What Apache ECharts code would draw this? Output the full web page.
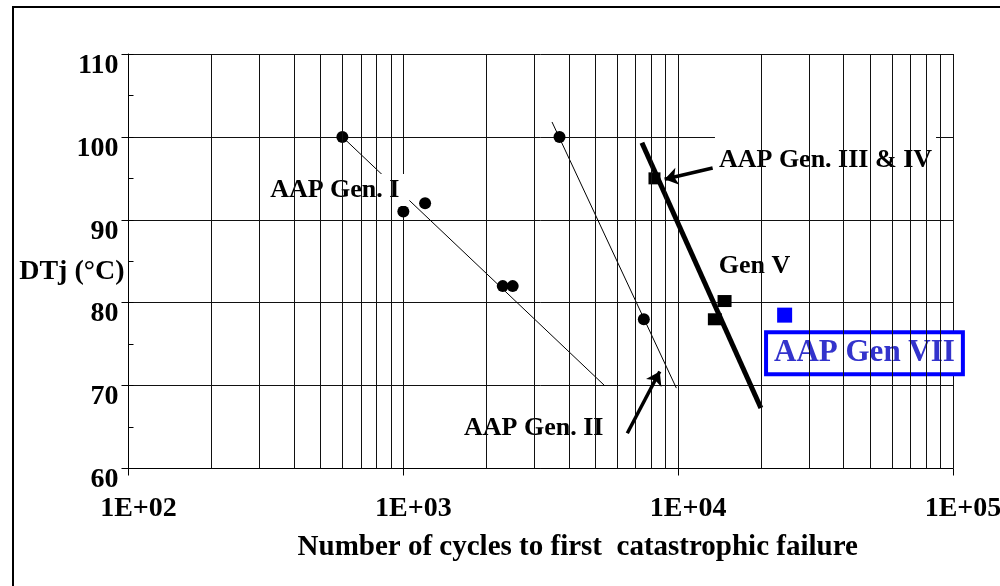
<!DOCTYPE html>
<html>
<head>
<meta charset="UTF-8">
<title>DTj vs cycles</title>
<script src="https://cdn.jsdelivr.net/npm/echarts@6/dist/echarts.min.js"></script>
</head>
<body style="margin:0;background:#fff">
<div id="main" style="width:1000px;height:586px;"></div>
<script>
var FONT = "'Liberation Serif', 'Times New Roman', serif";

// axis ticks
var X_TICKS = ['1E+02', '1E+03', '1E+04', '1E+05'];
var MINOR_X = [200, 300, 400, 500, 600, 700, 800, 900,
               2000, 3000, 4000, 5000, 6000, 7000, 8000, 9000,
               20000, 30000, 40000, 50000, 60000, 70000, 80000, 90000];

// measured points  [cycles, DTj]
var genI = [[600, 100], [1000, 91], [1200, 92], [2300, 82], [2500, 82]];
var genII = [[3700, 100], [7500, 78]];
var genIII = [[8200, 95]];
var genV = [[14750, 80.2], [13600, 78]];
var genVII = [[24400, 78.5]];

// fitted lines (end points)
var genIFit = [[600, 100], [5400, 70]];
var genIIFit = [[3475, 101.8], [9850, 69.7]];
var genIIIFit = [[7380, 99.3], [20000, 67.3]];

// annotations
var labelText = ['AAP Gen. I', 'AAP Gen. III & IV', 'Gen V', 'AAP Gen. II'];
var labelPos = [[563, 93.6], [34360, 97.2], [18970, 84.4], [2982, 64.9]];
var labelPad = [[3, 10], [12, 4], [12, 4], [18, 10]];
var arrows = [
    [[13350, 96.25], [8930, 94.9]],
    [[6530, 64.25], [8570, 71.7]]
];
var gen7Text = 'AAP Gen VII';
var gen7Pos = [47630, 73.9];

var myChart = echarts.init(document.getElementById('main'));

var labelData = labelText.map(function (t, i) {
    return {
        value: labelPos[i],
        label: { formatter: t, padding: labelPad[i] }
    };
});

var option = {
    animation: false,
    backgroundColor: '#fff',
    grid: {
        left: 128.5, right: 47, top: 54, bottom: 117.5,
        containLabel: false,
        outerBoundsMode: 'none'
    },
    graphic: [{
        type: 'rect',
        silent: true,
        shape: { x: 13, y: 7, width: 1010, height: 600 },
        style: { fill: 'none', stroke: '#000', lineWidth: 2 }
    }],
    xAxis: {
        type: 'log',
        logBase: 10,
        min: 100,
        max: 100000,
        axisLine: { show: true, onZero: false, lineStyle: { color: '#000' } },
        axisTick: { show: true, length: 7, lineStyle: { color: '#000' } },
        axisLabel: {
            formatter: function (v) {
                return X_TICKS[Math.round(Math.log10(v)) - 2];
            },
            fontFamily: FONT, fontSize: 28, fontWeight: 'bold', color: '#000',
            margin: 26, padding: [0, 0, 0, 20]
        },
        splitLine: { show: true, lineStyle: { color: '#111', width: 1 } },
        name: 'Number of cycles to first  catastrophic failure',
        nameLocation: 'middle',
        nameGap: 65,
        nameMoveOverlap: false,
        nameTextStyle: {
            fontFamily: FONT, fontSize: 29, fontWeight: 'bold', color: '#000',
            padding: [0, 0, 0, 74]
        }
    },
    yAxis: [{
        type: 'value',
        min: 60,
        max: 110,
        interval: 10,
        axisLine: { show: true, lineStyle: { color: '#000' } },
        axisTick: { show: true, length: 7, lineStyle: { color: '#000' } },
        axisLabel: {
            fontFamily: FONT, fontSize: 28, fontWeight: 'bold', color: '#000',
            margin: 10, verticalAlign: 'top', lineHeight: 23
        },
        splitLine: { show: true, lineStyle: { color: '#111', width: 1 } },
        name: 'DTj (°C)',
        nameLocation: 'middle',
        nameRotate: 0,
        nameGap: 4,
        nameMoveOverlap: false,
        nameTextStyle: {
            fontFamily: FONT, fontSize: 28, fontWeight: 'bold', color: '#000',
            align: 'right', verticalAlign: 'top', lineHeight: 22
        }
    }, {
        // inner half-step ticks
        type: 'value',
        min: 60,
        max: 110,
        interval: 5,
        position: 'left',
        offset: 0,
        axisLine: { show: false },
        axisTick: { show: true, inside: true, length: 5, lineStyle: { color: '#000' } },
        axisLabel: { show: false },
        splitLine: { show: false }
    }],
    series: [
        {
            // minor vertical grid lines
            type: 'line',
            data: [],
            silent: true,
            z: 1,
            markLine: {
                silent: true,
                symbol: 'none',
                label: { show: false },
                lineStyle: { color: '#111', width: 1, type: 'solid' },
                data: MINOR_X.map(function (v) { return { xAxis: v }; })
            }
        },
        {
            name: 'Gen I fit', type: 'line', data: genIFit, symbol: 'none',
            lineStyle: { color: '#000', width: 1 }, z: 2
        },
        {
            name: 'Gen II fit', type: 'line', data: genIIFit, symbol: 'none',
            lineStyle: { color: '#000', width: 1 }, z: 2
        },
        {
            name: 'Gen III fit', type: 'line', data: genIIIFit, symbol: 'none',
            lineStyle: { color: '#000', width: 5 }, z: 2
        },
        {
            name: 'Gen I', type: 'scatter', data: genI, symbol: 'circle',
            symbolSize: 12, itemStyle: { color: '#000', opacity: 1 }, z: 3
        },
        {
            name: 'Gen II', type: 'scatter', data: genII, symbol: 'circle',
            symbolSize: 12, itemStyle: { color: '#000', opacity: 1 }, z: 3
        },
        {
            name: 'Gen III & IV', type: 'scatter', data: genIII, symbol: 'rect',
            symbolSize: 12, itemStyle: { color: '#000', opacity: 1 }, z: 3
        },
        {
            name: 'Gen V', type: 'scatter', data: genV, symbol: 'rect',
            symbolSize: [14, 12], itemStyle: { color: '#000', opacity: 1 }, z: 3
        },
        {
            name: 'Gen VII', type: 'scatter', data: genVII, symbol: 'rect',
            symbolSize: 15, itemStyle: { color: '#0000ff', opacity: 1 }, z: 3
        },
        {
            // text labels on white boxes
            type: 'scatter',
            data: labelData,
            symbolSize: 0,
            silent: true,
            z: 4,
            itemStyle: { opacity: 1 },
            label: {
                show: true,
                position: 'inside',
                fontFamily: FONT, fontSize: 26, fontWeight: 'bold', color: '#000',
                backgroundColor: '#fff'
            }
        },
        {
            type: 'scatter',
            data: [{ value: gen7Pos }],
            symbolSize: 0,
            silent: true,
            z: 4,
            itemStyle: { opacity: 1 },
            label: {
                show: true,
                position: 'inside',
                formatter: gen7Text,
                fontFamily: FONT, fontSize: 31, fontWeight: 'bold', color: '#3333cc',
                backgroundColor: '#fff',
                borderColor: '#0000ff',
                borderWidth: 4,
                padding: [2, 6],
                lineHeight: 34
            }
        },
        {
            // arrows
            type: 'line',
            data: [],
            silent: true,
            z: 5,
            markLine: {
                silent: true,
                symbol: ['none', 'arrow'],
                symbolSize: 13,
                label: { show: false },
                lineStyle: { color: '#000', width: 3.5, type: 'solid' },
                data: arrows.map(function (a) {
                    return [{ coord: a[0] }, { coord: a[1] }];
                })
            }
        }
    ]
};
myChart.setOption(option);
</script>
</body>
</html>
